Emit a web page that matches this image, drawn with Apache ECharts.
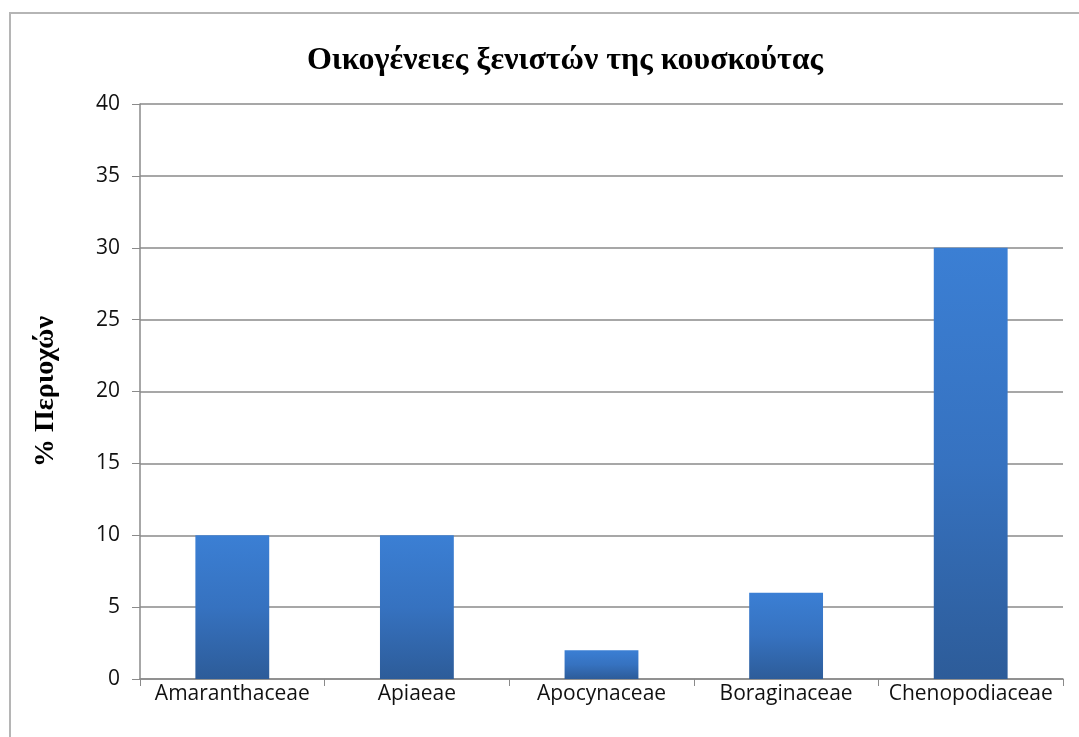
<!DOCTYPE html>
<html>
<head>
<meta charset="utf-8">
<script src="https://cdn.jsdelivr.net/npm/echarts@6/dist/echarts.min.js"></script>
<style>
  html, body { margin: 0; padding: 0; background: #fff; }
  #chart { width: 1079px; height: 737px; }
</style>
</head>
<body>
<div id="chart"></div>
<script>
const families = ['Amaranthaceae', 'Apiaeae', 'Apocynaceae', 'Boraginaceae', 'Chenopodiaceae']
const percentAreas = [10, 10, 2, 6, 30]
const titleText = 'Οικογένειες ξενιστών της κουσκούτας'
const yName = '% Περιοχών'

const chart = echarts.init(document.getElementById('chart'))

const option = {
  animation: false,
  title: {
    text: titleText,
    left: 560,
    top: 40,
    textAlign: 'center',
    textStyle: {
      fontFamily: 'Liberation Serif',
      fontWeight: 'bold',
      fontSize: 32,
      color: '#000',
    },
  },
  graphic: [
    {
      type: 'rect',
      shape: { x: 10, y: 13, width: 1080, height: 740 },
      style: { fill: 'none', stroke: '#b5b5b5', lineWidth: 2 },
    },
  ],
  grid: { left: 140, right: 16, top: 104, bottom: 58 },
  xAxis: {
    type: 'category',
    data: families,
    axisLine: { lineStyle: { color: '#8a8a8a', width: 1.5 } },
    axisTick: { show: true, length: 7, lineStyle: { color: '#8a8a8a' } },
    axisLabel: {
      interval: 0,
      fontFamily: 'Open Sans',
      fontSize: 21,
      color: '#111',
      margin: 5,
    },
  },
  yAxis: {
    type: 'value',
    min: 0,
    max: 40,
    interval: 5,
    name: yName,
    nameLocation: 'middle',
    nameGap: 80,
    nameTextStyle: {
      fontFamily: 'Liberation Serif',
      fontWeight: 'bold',
      fontSize: 28,
      color: '#000',
    },
    axisLine: { show: true, lineStyle: { color: '#8a8a8a', width: 1.5 } },
    axisTick: { show: true, length: 8, lineStyle: { color: '#8a8a8a' } },
    splitLine: { lineStyle: { color: '#8a8a8a', width: 1.5 } },
    axisLabel: {
      fontFamily: 'Open Sans',
      fontSize: 21,
      color: '#111',
      margin: 20,
    },
  },
  series: [
    {
      type: 'bar',
      data: percentAreas,
      barWidth: '40%',
      itemStyle: {
        color: new echarts.graphic.LinearGradient(0, 0, 0, 1, [
          { offset: 0, color: '#3b7fd4' },
          { offset: 0.5, color: '#3672c0' },
          { offset: 1, color: '#2d5c99' },
        ]),
      },
    },
  ],
}

chart.setOption(option)
</script>
</body>
</html>
